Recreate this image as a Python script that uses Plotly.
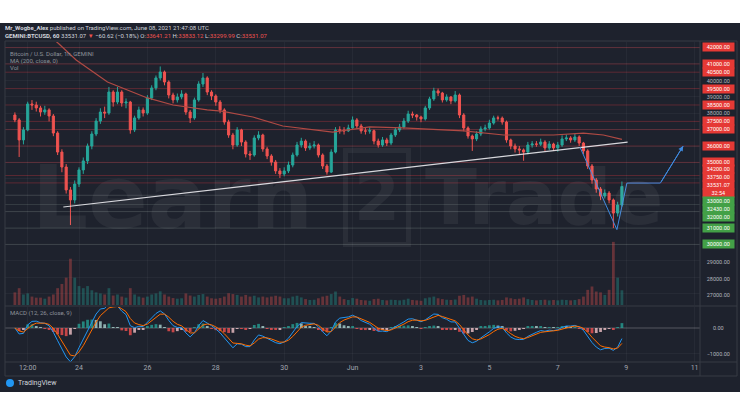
import pandas as pd
import plotly.graph_objects as go

W, H = 740, 416
def px(x): return x / W
def py(y): return 1 - y / H

# ---------------- data ----------------
candle_start = "2021-05-22 03:00"   # 3-hour candles
first_open = 37890
closes = [37590, 36370, 36980, 38560, 38500, 38320, 38070, 38200, 37830, 36790,
          35630, 34720, 33320, 32710, 33680, 34540, 35090, 36000, 36730, 37520,
          38070, 38010, 39290, 38680, 39290, 38620, 38680, 36980, 37710, 38200,
          38010, 38930, 39540, 40150, 40510, 39900, 39110, 38810, 38990, 39170,
          38070, 37710, 38810, 39780, 40150, 39290, 39050, 38680, 38200, 37460,
          36670, 36060, 36980, 36240, 35510, 35450, 36490, 36670, 35820, 35390,
          35020, 34480, 34290, 34480, 34840, 35450, 36060, 36300, 35880, 36000,
          36060, 35450, 34780, 34410, 35630, 36980, 36960, 36920, 37100, 37590,
          37220, 36920, 36910, 36930, 36300, 36060, 36370, 36180, 36670, 36980,
          37160, 37520, 37950, 37890, 37770, 37650, 38320, 38870, 39360, 39230,
          38810, 38990, 38750, 39110, 37890, 37100, 36610, 36430, 36730, 37040,
          37100, 37400, 37710, 37700, 37460, 36370, 36000, 35820, 35760, 35630,
          36060, 36120, 36110, 36240, 35880, 36120, 35880, 36060, 36430, 36490,
          36370, 36550, 36180, 35700, 34780, 33930, 33380, 32950, 33130, 32710,
          31910, 32400, 33531.07]
highs = [38050, 37700, 37150, 38700, 38800, 38700, 38450, 38450, 38300, 37950,
         36900, 35800, 34900, 33500, 33900, 34700, 35300, 36150, 36900, 37700,
         38300, 38400, 39600, 39400, 39600, 39400, 38900, 38750, 37850, 38400,
         38350, 39100, 39700, 40300, 40850, 40600, 40000, 39250, 39200, 39400,
         39250, 38200, 38950, 39950, 40450, 40250, 39400, 39150, 38800, 38300,
         37600, 36800, 37150, 37050, 36350, 35700, 36650, 36900, 36750, 35950,
         35500, 35150, 34650, 34700, 35050, 35600, 36250, 36500, 36400, 36200,
         36300, 36150, 35550, 34900, 35800, 37150, 37200, 37150, 37300, 37800,
         37700, 37350, 37100, 37150, 37000, 36450, 36550, 36500, 36800, 37150,
         37350, 37700, 38150, 38100, 37950, 37850, 38450, 39000, 39550, 39500,
         39300, 39150, 39050, 39350, 39200, 38000, 37200, 36700, 36900, 37200,
         37300, 37600, 37850, 37850, 37800, 37550, 36450, 36150, 36000, 35850,
         36250, 36300, 36300, 36450, 36350, 36300, 36200, 36250, 36650, 36700,
         36600, 36750, 36650, 36250, 35800, 34900, 34050, 33500, 33350, 33250,
         32800, 32600, 33833.12]
lows = [37450, 35330, 36100, 36900, 38200, 38100, 37800, 37900, 37500, 36600,
        35450, 34400, 33100, 31180, 32500, 33500, 34300, 34900, 35800, 36600,
        37350, 37700, 37900, 38400, 38550, 38400, 38300, 36750, 36850, 37600,
        37800, 37900, 38800, 39400, 40000, 39700, 38900, 38600, 38650, 38850,
        37900, 37400, 37600, 38700, 39600, 39100, 38800, 38450, 38000, 37300,
        36500, 35800, 35950, 36000, 35300, 35150, 35350, 36350, 35650, 35200,
        34800, 34300, 34050, 34150, 34350, 34700, 35350, 35900, 35700, 35750,
        35850, 35300, 34600, 34250, 34350, 35550, 36750, 36700, 36850, 37000,
        37050, 36750, 36700, 36750, 36100, 35900, 35950, 36000, 36050, 36550,
        36850, 37050, 37400, 37700, 37550, 37450, 37550, 38200, 38750, 39050,
        38650, 38700, 38550, 38650, 37700, 36900, 36450, 35700, 36300, 36600,
        36900, 37000, 37300, 37550, 37300, 36200, 35800, 35600, 35500, 35100,
        35500, 35900, 35950, 36000, 35700, 35750, 35700, 35650, 35950, 36300,
        36200, 36250, 36000, 35500, 34600, 33700, 33150, 32700, 32800, 32500,
        31000, 31700, 32300]
volumes = [600, 800, 500, 550, 400, 350, 350, 300, 400, 500,
           800, 1000, 1300, 2200, 1300, 900, 800, 900, 700, 600,
           550, 500, 800, 450, 500, 400, 350, 800, 500, 400,
           350, 400, 500, 550, 650, 500, 400, 330, 300, 320,
           550, 450, 400, 480, 520, 400, 320, 300, 330, 400,
           560, 520, 480, 400, 480, 400, 440, 360, 400, 360,
           400, 440, 400, 320, 320, 400, 440, 360, 280, 240,
           250, 320, 400, 440, 520, 640, 400, 280, 240, 330,
           300, 240, 220, 200, 280, 300, 240, 220, 250, 240,
           220, 250, 300, 240, 220, 200, 320, 360, 400, 320,
           280, 250, 240, 260, 440, 480, 360, 400, 300, 240,
           220, 240, 250, 220, 240, 360, 320, 280, 300, 360,
           280, 240, 220, 240, 250, 220, 240, 220, 250, 240,
           220, 240, 280, 400, 720, 880, 640, 600, 480, 720,
           3000, 1300, 700]

ma_times = ["2021-05-23 05:00", "2021-05-23 10:00", "2021-05-23 22:00", "2021-05-24 20:00",
            "2021-05-26 00:00", "2021-05-26 18:00", "2021-05-27 18:00", "2021-05-28 04:00",
            "2021-05-29 02:00", "2021-05-29 23:00", "2021-05-31 10:00", "2021-06-01 12:00",
            "2021-06-02 11:00", "2021-06-04 06:00", "2021-06-05 10:00", "2021-06-06 21:00",
            "2021-06-07 18:00", "2021-06-08 08:00", "2021-06-08 21:00"]
ma_values = [42600, 42220, 41240, 39900, 38930, 38500, 38200, 38130, 37770, 37220,
             36850, 37160, 37100, 36920, 36670, 36670, 36790, 36670, 36400]

trend_times = ["2021-05-23 13:00", "2021-06-09 01:00"]
trend_prices = [32280, 36240]

proj_times = ["2021-06-07 15:30", "2021-06-08 17:30", "2021-06-09 00:30",
              "2021-06-10 00:00", "2021-06-10 16:00"]
proj_prices = [35940, 30900, 33740, 33740, 36000]

red_levels = [42000, 41000, 40500, 39500, 38500, 37500, 37000, 36000, 35000, 34200, 33750]
green_levels = [33000, 32430, 32000, 31000, 30000]
axis_prices = [40000, 39000, 38000, 29000, 28000, 27000]
last_price = 33531.07
countdown = "32:54"

date_ticks = ["2021-05-22 12:00", "2021-05-24", "2021-05-26", "2021-05-28", "2021-05-30",
              "2021-06-01", "2021-06-03", "2021-06-05", "2021-06-07", "2021-06-09", "2021-06-11"]
date_labels = ["12:00", "24", "26", "28", "30", "Jun", "3", "5", "7", "9", "11"]
macd_ticks = [0, -1000]

# ---------------- derived ----------------
times = pd.date_range(candle_start, periods=len(closes), freq="3h")
opens = [first_open] + closes[:-1]
up = [c >= o for o, c in zip(opens, closes)]

s = pd.Series(closes)
fast = s.ewm(alpha=0.394, adjust=False).mean()
slow = s.ewm(alpha=0.206, adjust=False).mean()
macd = fast - slow
signal = macd.ewm(alpha=0.488, adjust=False).mean()
hist = macd - signal
hcol = []
for i, h in enumerate(hist):
    prev = hist[i - 1] if i > 0 else 0
    if h >= 0:
        hcol.append("#26a69a" if h >= prev else "#b2dfdb")
    else:
        hcol.append("#ffcdd2" if h >= prev else "#ff5252")

BG = "#1e222d"
RED = "#ef5350"
GREEN = "#26a69a"
TXT = "#b2b5be"

x_range = ["2021-05-21 20:04", "2021-06-11 03:48"]
main_dom = [py(305), py(42)]
macd_dom = [py(362), py(307)]

fig = go.Figure()

fig.add_trace(go.Bar(x=times, y=volumes, yaxis="y2", xaxis="x",
                     marker=dict(color=["rgba(38,166,154,0.35)" if u else "rgba(239,83,80,0.35)" for u in up],
                                 line=dict(width=0)),
                     hoverinfo="skip", showlegend=False))
fig.add_trace(go.Candlestick(x=times, open=opens, high=highs, low=lows, close=closes,
                             increasing=dict(line=dict(color=GREEN, width=1), fillcolor=GREEN),
                             decreasing=dict(line=dict(color=RED, width=1), fillcolor=RED),
                             whiskerwidth=0, showlegend=False, xaxis="x", yaxis="y"))
fig.add_trace(go.Scatter(x=ma_times, y=ma_values, mode="lines", line=dict(color="#b04a44", width=1.2),
                         showlegend=False, xaxis="x", yaxis="y"))
fig.add_trace(go.Scatter(x=trend_times, y=trend_prices, mode="lines",
                         line=dict(color="rgba(235,235,240,0.9)", width=1.2),
                         showlegend=False, xaxis="x", yaxis="y"))
fig.add_trace(go.Scatter(x=proj_times, y=proj_prices, mode="lines",
                         line=dict(color="#3f8ae0", width=1), showlegend=False, xaxis="x", yaxis="y"))

# MACD pane
fig.add_trace(go.Bar(x=times, y=hist, xaxis="x2", yaxis="y3", marker=dict(color=hcol, line=dict(width=0)),
                     opacity=0.75, showlegend=False))
fig.add_trace(go.Scatter(x=times, y=macd, mode="lines", line=dict(color="#2196f3", width=1),
                         xaxis="x2", yaxis="y3", showlegend=False))
fig.add_trace(go.Scatter(x=times, y=signal, mode="lines", line=dict(color="#ff6d00", width=1),
                         xaxis="x2", yaxis="y3", showlegend=False))

shapes = []
shapes.append(dict(type="rect", xref="paper", yref="paper", x0=0, x1=1, y0=py(392), y1=py(23),
                   fillcolor=BG, line=dict(width=0), layer="below"))
for lv in red_levels:
    shapes.append(dict(type="line", xref="paper", yref="y", x0=px(5), x1=px(700), y0=lv, y1=lv,
                       line=dict(color="rgba(220,55,65,0.32)", width=1), layer="between"))
for lv in green_levels:
    shapes.append(dict(type="line", xref="paper", yref="y", x0=px(5), x1=px(700), y0=lv, y1=lv,
                       line=dict(color="rgba(140,160,150,0.22)", width=1), layer="between"))
FR = "#363a45"
for yy in [41, 306, 362, 376]:
    shapes.append(dict(type="line", xref="paper", yref="paper", x0=px(5), x1=px(737), y0=py(yy), y1=py(yy),
                       line=dict(color=FR, width=1)))
for xx in [5, 700, 737]:
    shapes.append(dict(type="line", xref="paper", yref="paper", x0=px(xx), x1=px(xx), y0=py(376), y1=py(41),
                       line=dict(color=FR, width=1)))
shapes.append(dict(type="circle", xref="paper", yref="paper", x0=px(6), x1=px(14), y0=py(387), y1=py(379),
                   fillcolor="#2196f3", line=dict(width=0)))

ann = []
def label(ypx, text, bg):
    ann.append(dict(xref="paper", yref="paper", x=px(718), y=py(ypx), text=text, showarrow=False,
                    font=dict(size=5.5, color="white" if bg else TXT, family="Roboto"),
                    bgcolor=bg if bg else None, width=30, height=7, borderpad=0.3,
                    xanchor="center", yanchor="middle"))

red_label_px = [47, 64, 72, 89, 105, 121, 129, 146, 162, 169, 177]
for lv, yp in zip(red_levels, red_label_px):
    label(yp, f"{lv:.2f}", "#e53935")
label(185, f"{last_price:.2f}", "#e53935")
label(193, countdown, "#e53935")
green_label_px = [201, 209, 217, 228, 244]
for lv, yp in zip(green_levels, green_label_px):
    label(yp, f"{lv:.2f}", "#43a047")
axis_label_px = [81, 97, 113, 262, 279, 295]
for lv, yp in zip(axis_prices, axis_label_px):
    label(yp, f"{lv:.2f}", None)
for v, yp in zip(macd_ticks, [328, 354]):
    label(yp, f"{v:.2f}".replace("-", "−"), None)

ann.append(dict(xref="paper", yref="paper", x=px(3), y=py(28), xanchor="left", yanchor="middle", showarrow=False,
                text="<b>Mr_Wogbe_Alex</b> published on TradingView.com, June 08, 2021 21:47:08 UTC",
                font=dict(size=6, color="#d1d4dc", family="Roboto")))
r = "<span style='color:#ef5350'>%s</span>"
ann.append(dict(xref="paper", yref="paper", x=px(3), y=py(36), xanchor="left", yanchor="middle", showarrow=False,
                text="<b>GEMINI:BTCUSD, 60</b> 33531.07 " + r % "▼" + " −60.62 (−0.18%) O:" + r % "33641.21"
                     + " H:" + r % "33833.12" + " L:" + r % "33299.99" + " C:" + r % "33531.07",
                font=dict(size=6, color="#d1d4dc", family="Roboto")))
for yp, t in [(53, "Bitcoin / U.S. Dollar, 1h, GEMINI"), (61, "MA (200, close, 0)"), (68, "Vol"),
              (313, "MACD (12, 26, close, 9)")]:
    ann.append(dict(xref="paper", yref="paper", x=px(8), y=py(yp), xanchor="left", yanchor="middle",
                    showarrow=False, text=t, font=dict(size=6, color="#8f929b", family="Roboto")))
ann.append(dict(xref="paper", yref="paper", x=px(16), y=py(383), xanchor="left", yanchor="middle",
                showarrow=False, text="TradingView", font=dict(size=7, color="#d1d4dc", family="Roboto")))
# watermark
WM = "rgba(255,255,255,0.055)"
ann.append(dict(xref="paper", yref="paper", x=px(30), y=py(197), xanchor="left", yanchor="middle",
                text="<b>Learn</b>", showarrow=False, font=dict(size=88, color=WM, family="DejaVu Sans")))
ann.append(dict(xref="paper", yref="paper", x=px(377), y=py(197), xanchor="center", yanchor="middle",
                text="<b>2</b>", showarrow=False, font=dict(size=66, color=WM, family="DejaVu Sans"),
                bordercolor=WM, borderwidth=5, borderpad=6))
ann.append(dict(xref="paper", yref="paper", x=px(665), y=py(197), xanchor="right", yanchor="middle",
                text="<b>Trade</b>", showarrow=False, font=dict(size=76, color=WM, family="DejaVu Sans")))
ann.append(dict(xref="x", yref="y", axref="x", ayref="y", x=proj_times[-1], y=proj_prices[-1],
                ax=proj_times[-2], ay=proj_prices[-2], text="", showarrow=True, arrowhead=2,
                arrowsize=1, arrowwidth=1, arrowcolor="#3f8ae0", standoff=0))

grid = "rgba(255,255,255,0.04)"
fig.update_layout(
    width=W, height=H, margin=dict(l=0, r=0, t=0, b=0),
    paper_bgcolor="white", plot_bgcolor="rgba(0,0,0,0)",
    showlegend=False, bargap=0.35, barmode="overlay",
    shapes=shapes, annotations=ann,
    xaxis=dict(domain=[px(5), px(700)], range=x_range, anchor="y", showticklabels=False,
               tickvals=date_ticks, showgrid=True, gridcolor=grid, zeroline=False,
               rangeslider=dict(visible=False), fixedrange=True),
    yaxis=dict(domain=main_dom, range=[26305, 42341], showticklabels=False, dtick=1000, tick0=0,
               showgrid=True, gridcolor=grid, zeroline=False),
    yaxis2=dict(domain=main_dom, range=[0, 12500], overlaying="y", visible=False),
    xaxis2=dict(domain=[px(5), px(700)], range=x_range, anchor="y3", matches="x",
                tickvals=date_ticks, ticktext=date_labels, showgrid=True, gridcolor=grid,
                tickfont=dict(size=7, color="#a3a6af", family="Roboto"), ticks="", zeroline=False),
    yaxis3=dict(domain=macd_dom, range=[-1308, 808], showticklabels=False, tickvals=macd_ticks,
                showgrid=True, gridcolor=grid, zeroline=True, zerolinecolor="rgba(255,255,255,0.12)"),
)

fig.write_html("out.html", config={"displayModeBar": False},
               post_script="document.body.style.margin='0';document.body.style.padding='0';"
                           "document.body.style.overflow='hidden';")
